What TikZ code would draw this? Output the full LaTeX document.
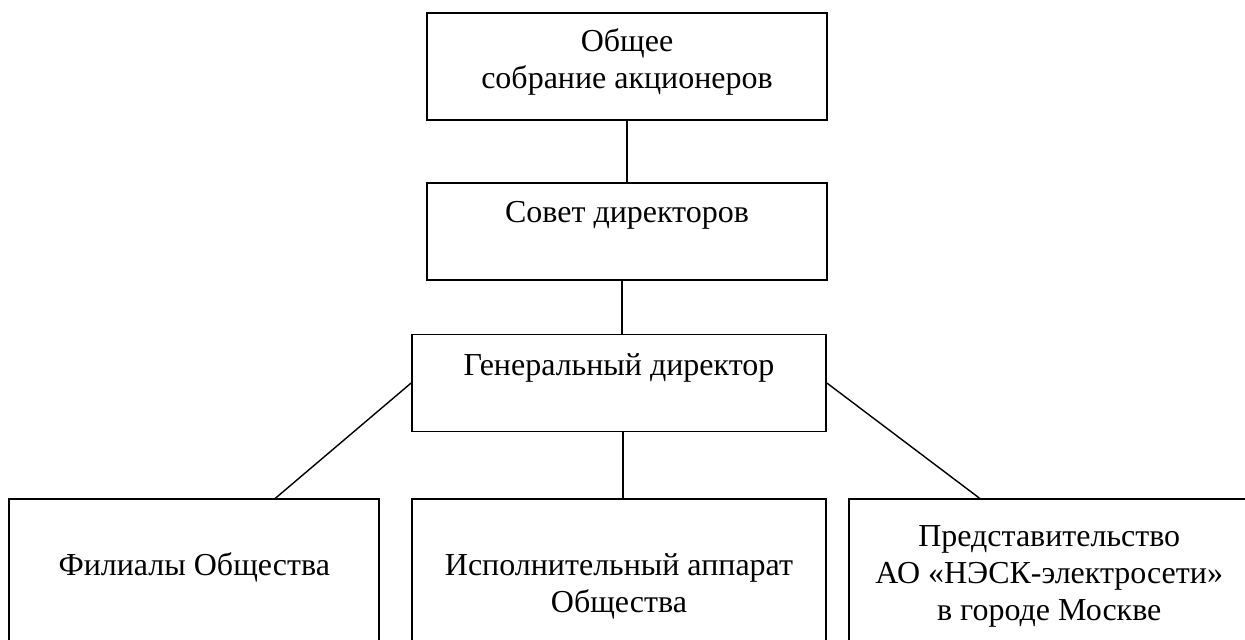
\documentclass[tikz,border=0pt]{standalone}
\usepackage{fontspec}
\setmainfont{Liberation Serif}
\usetikzlibrary{positioning}

\begin{document}
\begin{tikzpicture}[
  node distance=1.2cm and 0.6cm,
  box/.style={rectangle, draw, line width=1pt, inner sep=0pt, align=center,
    font=\fontsize{18.2}{21}\selectfont},
  link/.style={line width=0.8pt}
]
  \useasboundingbox (0,0) rectangle (24.9,-12.78);
  \clip (0,0) rectangle (24.9,-12.78);
  \node[box, minimum width=8cm, text height=1.5cm, text depth=0.64cm] (meeting) at (12.54,-1.33) {Общее\\собрание акционеров};
  \node[box, minimum width=8cm, text height=0.8cm, text depth=1.14cm, below=1.22cm of meeting] (board) {Совет директоров};
  \node[box, minimum width=8.28cm, text height=0.82cm, text depth=1.12cm, below=1.06cm of board, xshift=-0.16cm] (ceo) {Генеральный директор};
  \node[box, minimum width=8.28cm, text height=2.26cm, text depth=1.76cm, below=1.32cm of ceo] (staff) {Исполнительный аппарат\\Общества};
  \node[box, minimum width=7.4cm, text height=1.52cm, text depth=2.5cm, left=0.62cm of staff] (branches) {Филиалы Общества};
  \node[box, minimum width=8.02cm, text height=2.42cm, text depth=1.6cm, right=0.42cm of staff] (office) {Представительство\\АО «НЭСК-электросети»\\в городе Москве};

  \draw[link] (meeting) -- (board);
  \draw[link] ([xshift=0.06cm]ceo.north) -- ([xshift=0.06cm]ceo.north |- board.south);
  \draw[link] ([xshift=0.08cm]ceo.south) -- ([xshift=0.08cm]ceo.south |- staff.north);
  \draw[link] (ceo.west) -- ([xshift=1.62cm]branches.north);
  \draw[link] (ceo.east) -- ([xshift=-1.39cm]office.north);
\end{tikzpicture}
\end{document}
